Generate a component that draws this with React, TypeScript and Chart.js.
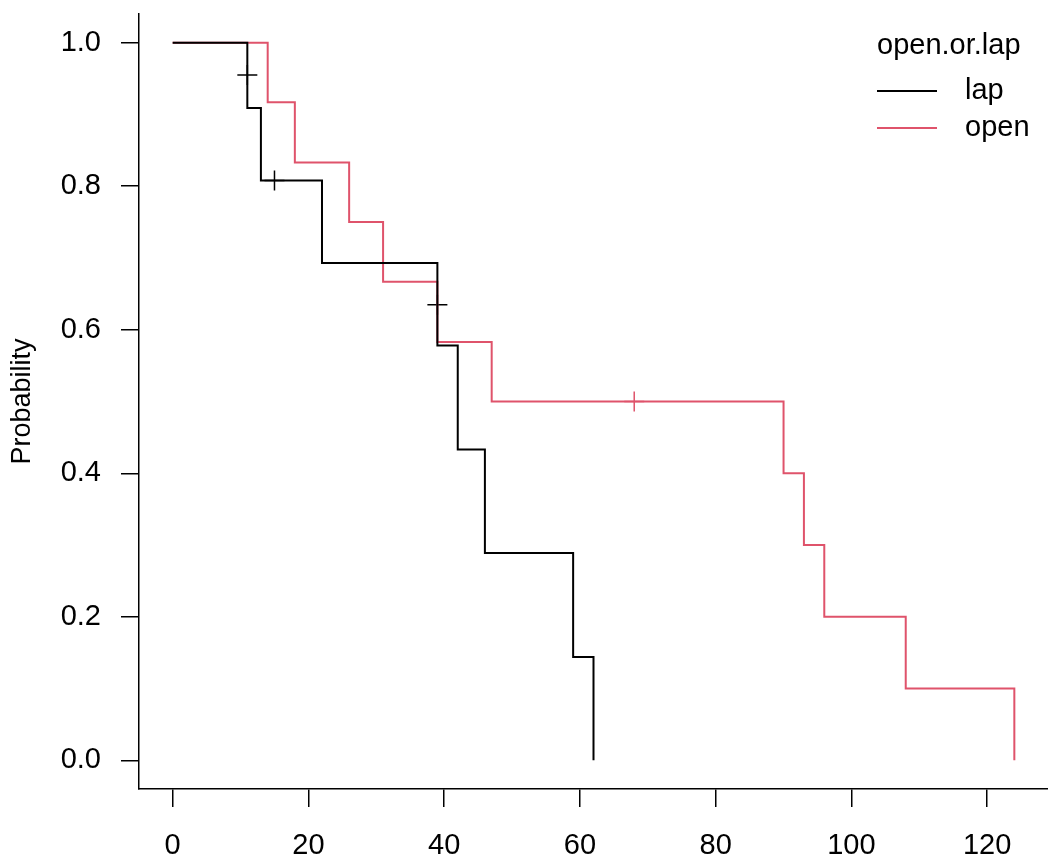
import React, { useEffect, useRef } from 'react';
import { Chart, registerables } from 'chart.js';

Chart.register(...registerables);

// ---- data ----
const legendTitle = 'open.or.lap';
const groupNames = ['lap', 'open'];
const groupColors = ['#000000', '#DF536B'];

const lapTimes = [0, 11, 13, 22, 39, 42, 46, 59, 62];
const lapSurv = [1, 0.909, 0.808, 0.693, 0.578, 0.433, 0.289, 0.144, 0];
const lapCensorTimes = [11, 15, 39];
const lapCensorSurv = [0.955, 0.808, 0.635];

const openTimes = [0, 14, 18, 26, 31, 39, 47, 90, 93, 96, 108, 124];
const openSurv = [1, 0.917, 0.833, 0.75, 0.667, 0.583, 0.5, 0.4, 0.3, 0.2, 0.1, 0];
const openCensorTimes = [68];
const openCensorSurv = [0.5];

const xTicks = [0, 20, 40, 60, 80, 100, 120];
const yTicks = [0, 0.2, 0.4, 0.6, 0.8, 1.0];
const yTitle = 'Probability';

const FONT = '"Liberation Sans", Arial, Helvetica, sans-serif';

const toPts = (xs: number[], ys: number[]) => xs.map((x, i) => ({ x, y: ys[i] }));

const kmLegend = {
  id: 'kmLegend',
  afterDatasetsDraw(chart: any) {
    const ctx = chart.ctx as CanvasRenderingContext2D;
    ctx.save();
    ctx.font = `29px ${FONT}`;
    ctx.fillStyle = '#000';
    ctx.textAlign = 'left';
    ctx.textBaseline = 'alphabetic';
    ctx.fillText(legendTitle, 877, 54);
    groupNames.forEach((name, i) => {
      const y = 91 + i * 37;
      ctx.strokeStyle = groupColors[i];
      ctx.lineWidth = 2;
      ctx.beginPath();
      ctx.moveTo(877, y);
      ctx.lineTo(937, y);
      ctx.stroke();
      ctx.textBaseline = 'middle';
      ctx.fillStyle = '#000';
      ctx.fillText(name, 965, y);
    });
    ctx.restore();
  },
};

export default function App() {
  const ref = useRef<HTMLCanvasElement | null>(null);

  useEffect(() => {
    if (!ref.current) return;
    const tickFont = { family: FONT, size: 29 };
    const chart = new Chart(ref.current, {
      type: 'scatter',
      data: {
        datasets: [
          {
            label: groupNames[0],
            data: toPts(lapTimes, lapSurv),
            showLine: true,
            stepped: 'before',
            borderColor: groupColors[0],
            borderWidth: 2,
            pointRadius: 0,
            fill: false,
          },
          {
            label: groupNames[1],
            data: toPts(openTimes, openSurv),
            showLine: true,
            stepped: 'before',
            borderColor: groupColors[1],
            borderWidth: 2,
            pointRadius: 0,
            fill: false,
          },
          {
            label: groupNames[0] + ' censored',
            data: toPts(lapCensorTimes, lapCensorSurv),
            showLine: false,
            pointStyle: 'cross',
            pointRadius: 10,
            pointBorderColor: groupColors[0],
            pointBorderWidth: 1.5,
            borderColor: groupColors[0],
          },
          {
            label: groupNames[1] + ' censored',
            data: toPts(openCensorTimes, openCensorSurv),
            showLine: false,
            pointStyle: 'cross',
            pointRadius: 10,
            pointBorderColor: groupColors[1],
            pointBorderWidth: 1.5,
            borderColor: groupColors[1],
          },
        ],
      } as any,
      options: {
        responsive: false,
        animation: false,
        events: [],
        layout: { autoPadding: false, padding: { top: 14, right: 0, left: 0, bottom: 0 } },
        plugins: {
          legend: { display: false },
          tooltip: { enabled: false },
        },
        scales: {
          x: {
            type: 'linear',
            min: -4.96,
            max: 128.96,
            afterFit: (s: any) => {
              s.height = 74;
              s.paddingLeft = 0;
              s.paddingRight = 0;
            },
            afterBuildTicks: (s: any) => {
              s.ticks = xTicks.map((v) => ({ value: v }));
            },
            grid: {
              display: true,
              drawOnChartArea: false,
              drawTicks: true,
              tickLength: 18,
              color: '#000',
              lineWidth: 1.5,
            },
            border: { display: true, color: '#000', width: 1.5 },
            ticks: {
              color: '#000',
              font: tickFont,
              padding: 22,
              maxRotation: 0,
              autoSkip: false,
              callback: (v: any) => String(v),
            },
          },
          y: {
            type: 'linear',
            min: -0.04,
            max: 1.04,
            afterFit: (s: any) => {
              s.width = 139;
              s.paddingTop = 0;
              s.paddingBottom = 0;
            },
            afterBuildTicks: (s: any) => {
              s.ticks = yTicks.map((v) => ({ value: v }));
            },
            grid: {
              display: true,
              drawOnChartArea: false,
              drawTicks: true,
              tickLength: 18,
              color: '#000',
              lineWidth: 1.5,
            },
            border: { display: true, color: '#000', width: 1.5 },
            title: {
              display: true,
              text: yTitle,
              color: '#000',
              font: { family: FONT, size: 27 },
              padding: { top: 6, bottom: 0 },
            },
            ticks: {
              color: '#000',
              font: tickFont,
              padding: 20,
              autoSkip: false,
              callback: (v: any) => Number(v).toFixed(1),
            },
          },
        },
      } as any,
      plugins: [kmLegend],
    });
    return () => chart.destroy();
  }, []);

  return (
    <div style={{ position: 'absolute', left: 0, top: 0, width: 1048, height: 863, background: '#fff' }}>
      <canvas ref={ref} width={1048} height={863} style={{ display: 'block' }} />
    </div>
  );
}
